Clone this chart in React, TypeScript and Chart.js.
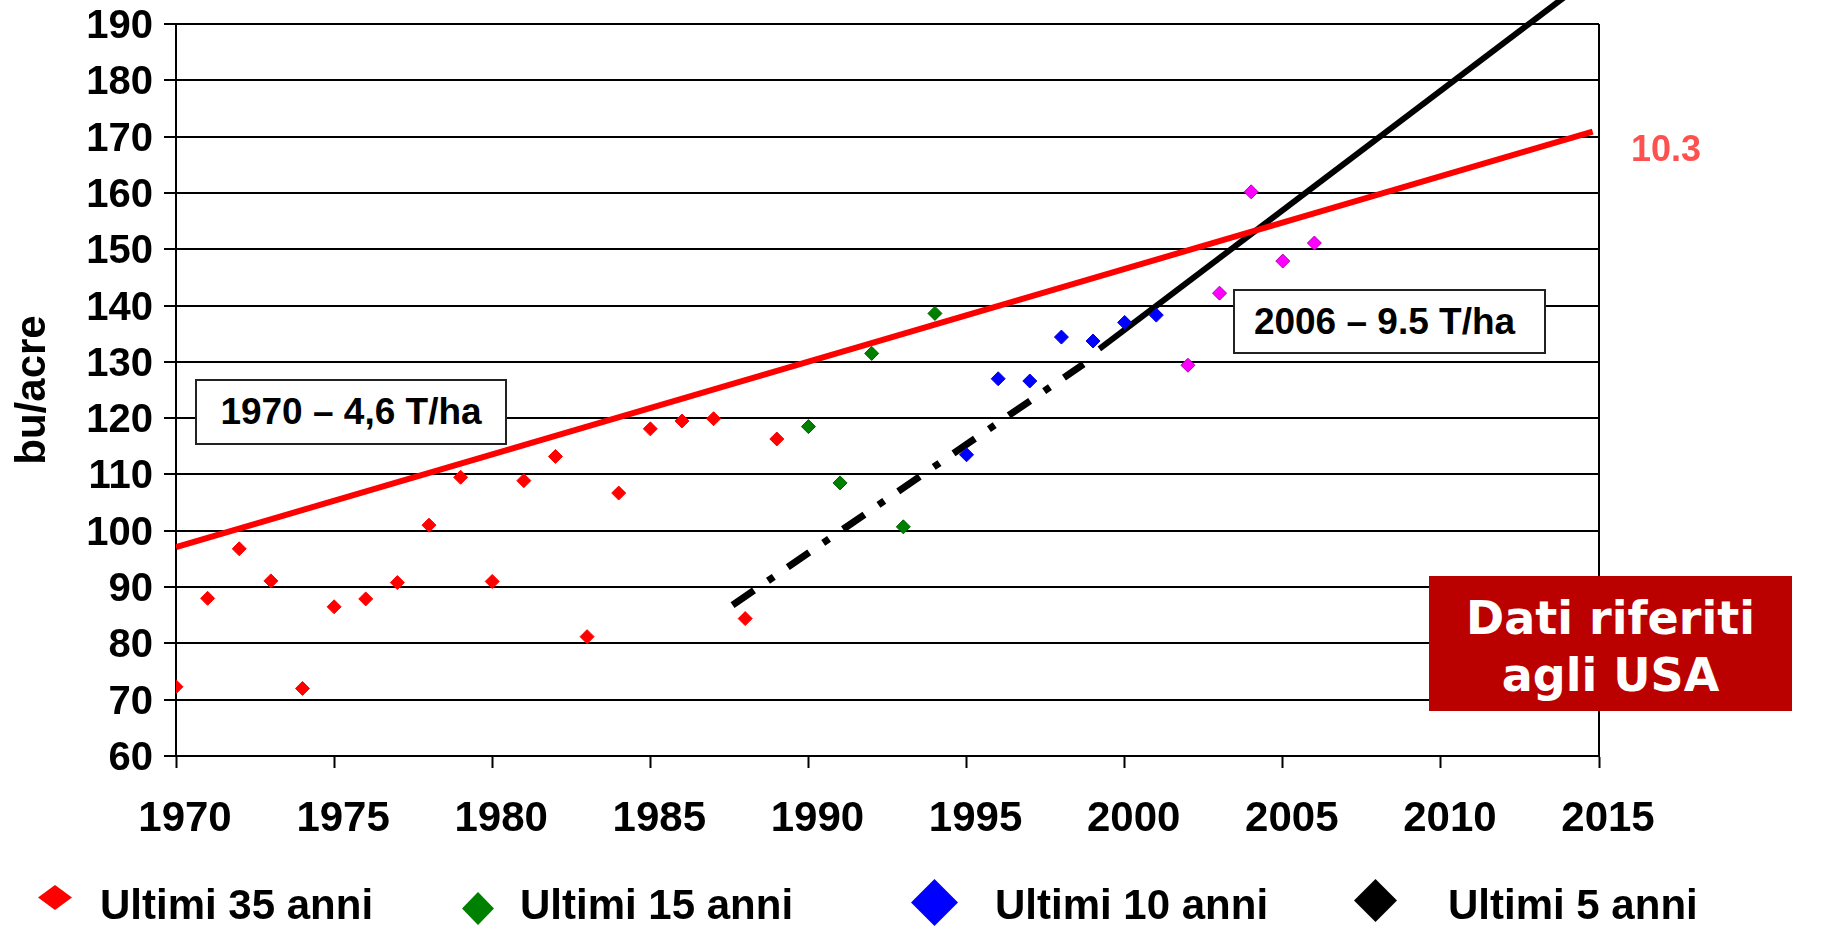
import React, { useEffect, useRef } from "react";
import { Chart, registerables } from "chart.js";

Chart.register(...registerables);

// ---- data ----
const years35 = [1970, 1971, 1972, 1973, 1974, 1975, 1976, 1977, 1978, 1979, 1980, 1981, 1982, 1983, 1984, 1985, 1986, 1987, 1988, 1989];
const yields35 = [72.3, 88.0, 96.8, 91.1, 72.0, 86.5, 87.9, 90.8, 101.0, 109.5, 91.0, 108.9, 113.2, 81.2, 106.7, 118.1, 119.5, 119.9, 84.4, 116.3];
const years15 = [1990, 1991, 1992, 1993, 1994];
const yields15 = [118.5, 108.5, 131.5, 100.7, 138.6];
const years10 = [1995, 1996, 1997, 1998, 1999, 2000, 2001];
const yields10 = [113.5, 127.0, 126.6, 134.4, 133.7, 137.0, 138.3];
const years5 = [2002, 2003, 2004, 2005, 2006];
const yields5 = [129.4, 142.2, 160.2, 147.9, 151.1];

const trend35X = [1970, 2014.8];
const trend35Y = [97.1, 170.9];
const trendDashX = [1987.6, 1998.7];
const trendDashY = [86.8, 129.6];
const trend5X = [1999.2, 2014.5];
const trend5Y = [132.3, 197.3];

const xMin = 1970;
const xMax = 2015;
const xStep = 5;
const yMin = 60;
const yMax = 190;
const yStep = 10;

const legendLabels = ["Ultimi 35 anni", "Ultimi 15 anni", "Ultimi 10 anni", "Ultimi 5 anni"];
const legendColors = ["#ff0000", "#008000", "#0000ff", "#000000"];
const note1970 = "1970 – 4,6 T/ha";
const note2006 = "2006 – 9.5 T/ha";
const trendLabel = "10.3";
const boxLine1 = "Dati riferiti";
const boxLine2 = "agli USA";
const yTitle = "bu/acre";

const zip = (xs: number[], ys: number[]) => xs.map((x, i) => ({ x, y: ys[i] }));

const FONT = "'Liberation Sans', Arial, sans-serif";

const framePlugin = {
  id: "frame",
  beforeDatasetsDraw(chart: any) {
    const { ctx, chartArea } = chart;
    ctx.save();
    ctx.strokeStyle = "#000";
    ctx.lineWidth = 2;
    ctx.beginPath();
    ctx.moveTo(chartArea.right, chartArea.top);
    ctx.lineTo(chartArea.right, chartArea.bottom);
    ctx.stroke();
    ctx.restore();
  },
};

function Diamond({ cx, cy, w, h, color }: { cx: number; cy: number; w: number; h: number; color: string }) {
  return (
    <svg
      width={w}
      height={h}
      style={{ position: "absolute", left: cx - w / 2, top: cy - h / 2 }}
    >
      <polygon points={`${w / 2},0 ${w},${h / 2} ${w / 2},${h} 0,${h / 2}`} fill={color} />
    </svg>
  );
}

export default function App() {
  const ref = useRef<HTMLCanvasElement | null>(null);

  useEffect(() => {
    if (!ref.current) return;
    const pointDs = (label: string, xs: number[], ys: number[], color: string, border: string) => ({
      label,
      data: zip(xs, ys),
      backgroundColor: color,
      borderColor: border,
      borderWidth: 1,
      pointStyle: "rectRot" as const,
      pointRadius: 7,
      showLine: false,
    });
    const chart = new Chart(ref.current, {
      type: "scatter",
      data: {
        datasets: [
          pointDs("Ultimi 35 anni", years35, yields35, "#ff0000", "#ff0000"),
          pointDs("Ultimi 15 anni", years15, yields15, "#008000", "#006000"),
          pointDs("Ultimi 10 anni", years10, yields10, "#0000ff", "#0000dd"),
          pointDs("Ultimi 5 anni", years5, yields5, "#ff00ff", "#b000b0"),
          {
            label: "trend35",
            data: zip(trend35X, trend35Y),
            showLine: true,
            borderColor: "#ff0000",
            borderWidth: 6,
            pointRadius: 0,
          },
          {
            label: "trendDash",
            data: zip(trendDashX, trendDashY),
            showLine: true,
            borderColor: "#000000",
            borderWidth: 7,
            borderDash: [26, 17, 7, 17],
            borderCapStyle: "butt",
            pointRadius: 0,
          },
          {
            label: "trend5",
            data: zip(trend5X, trend5Y),
            showLine: true,
            borderColor: "#000000",
            borderWidth: 6,
            pointRadius: 0,
            clip: false,
          } as any,
        ],
      },
      options: {
        animation: false,
        responsive: false,
        events: [],
        layout: { autoPadding: false, padding: { left: 0, top: 24, right: 234, bottom: 0 } } as any,
        plugins: {
          legend: { display: false },
          tooltip: { enabled: false },
        },
        scales: {
          x: {
            type: "linear",
            min: xMin,
            max: xMax,
            afterFit: (s: any) => {
              s.height = 171;
              s.paddingLeft = 0;
              s.paddingRight = 0;
              s.paddingTop = 0;
              s.paddingBottom = 0;
            },
            ticks: {
              stepSize: xStep,
              padding: 26,
              labelOffset: 9,
              color: "#000",
              font: { family: FONT, size: 42, weight: "bold" },
              callback: (v: any) => String(v),
              maxRotation: 0,
            },
            grid: {
              drawOnChartArea: false,
              drawTicks: true,
              tickLength: 12,
              tickColor: "#000",
              tickWidth: 2,
            },
            border: { display: true, color: "#000", width: 2 },
          },
          y: {
            type: "linear",
            min: yMin,
            max: yMax,
            afterFit: (s: any) => {
              s.width = 176;
              s.paddingLeft = 0;
              s.paddingRight = 0;
              s.paddingTop = 0;
              s.paddingBottom = 0;
            },
            ticks: {
              stepSize: yStep,
              padding: 11,
              labelOffset: 3,
              color: "#000",
              font: { family: FONT, size: 40, weight: "bold" },
              callback: (v: any) => String(v),
            },
            grid: {
              color: "#000",
              lineWidth: 2,
              drawTicks: true,
              tickLength: 12,
              tickColor: "#000",
              tickWidth: 2,
            },
            border: { display: true, color: "#000", width: 2 },
            title: {
              display: true,
              text: yTitle,
              color: "#000",
              font: { family: FONT, size: 42, weight: "bold" },
              padding: { top: 8, bottom: 0 },
            },
          },
        },
      },
      plugins: [framePlugin],
    } as any);
    return () => chart.destroy();
  }, []);

  const legendItems = [
    { cx: 54.5, cy: 897, w: 34, h: 25, tx: 100 },
    { cx: 478, cy: 908, w: 32, h: 33, tx: 520 },
    { cx: 934, cy: 902, w: 47, h: 47, tx: 995 },
    { cx: 1375, cy: 900, w: 43, h: 43, tx: 1448 },
  ];

  return (
    <div
      style={{
        position: "fixed",
        left: 0,
        top: 0,
        width: 1833,
        height: 927,
        background: "#fff",
        overflow: "hidden",
        fontFamily: FONT,
      }}
    >
      <canvas ref={ref} width={1833} height={927} style={{ position: "absolute", left: 0, top: 0 }} />

      <div
        style={{
          position: "absolute",
          left: 195,
          top: 379,
          width: 312,
          height: 66,
          boxSizing: "border-box",
          border: "2px solid #222",
          background: "#fff",
          fontSize: 37,
          fontWeight: "bold",
          lineHeight: "62px",
          textAlign: "center",
          color: "#000",
          whiteSpace: "nowrap",
        }}
      >
        {note1970}
      </div>

      <div
        style={{
          position: "absolute",
          left: 1233,
          top: 289,
          width: 313,
          height: 65,
          boxSizing: "border-box",
          border: "2px solid #222",
          background: "#fff",
          fontSize: 37,
          fontWeight: "bold",
          lineHeight: "61px",
          textAlign: "center",
          paddingRight: 10,
          color: "#000",
          whiteSpace: "nowrap",
        }}
      >
        {note2006}
      </div>

      <div
        style={{
          position: "absolute",
          left: 1631,
          top: 131,
          height: 36,
          fontSize: 36,
          lineHeight: "36px",
          fontWeight: "bold",
          color: "#ff5050",
          whiteSpace: "nowrap",
        }}
      >
        {trendLabel}
      </div>

      <div
        style={{
          position: "absolute",
          left: 1429,
          top: 576,
          width: 363,
          height: 135,
          boxSizing: "border-box",
          paddingTop: 14,
          background: "#bb0000",
          color: "#fff",
          fontFamily: "'DejaVu Sans', sans-serif",
          fontWeight: "bold",
          fontSize: 46,
          lineHeight: "57px",
          textAlign: "center",
          whiteSpace: "nowrap",
        }}
      >
        <div>{boxLine1}</div>
        <div>{boxLine2}</div>
      </div>

      {legendItems.map((it, i) => (
        <React.Fragment key={i}>
          <Diamond cx={it.cx} cy={it.cy} w={it.w} h={it.h} color={legendColors[i]} />
          <div
            style={{
              position: "absolute",
              left: it.tx,
              top: 884,
              fontSize: 42,
              lineHeight: "42px",
              fontWeight: "bold",
              color: "#000",
              whiteSpace: "nowrap",
            }}
          >
            {legendLabels[i]}
          </div>
        </React.Fragment>
      ))}
    </div>
  );
}
